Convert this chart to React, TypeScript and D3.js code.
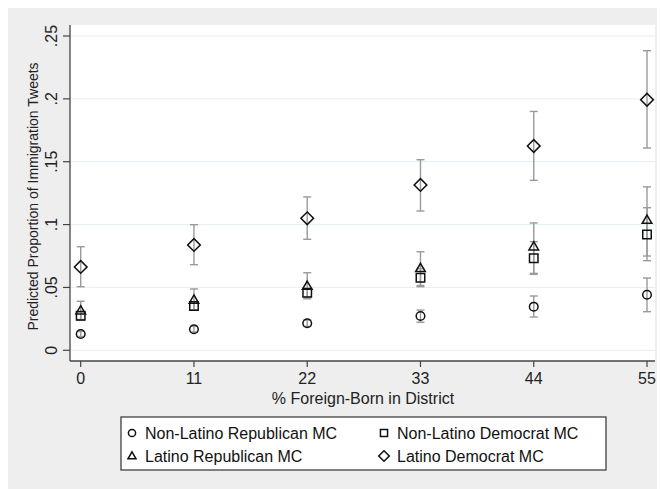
import React from "react";
import * as d3 from "d3";

// x positions (% foreign-born)
const foreignBorn = [0, 11, 22, 33, 44, 55];
const yTicks = [0, 0.05, 0.1, 0.15, 0.2, 0.25];
const yTickLabels = ["0", ".05", ".1", ".15", ".2", ".25"];

// predicted values with confidence interval bounds
const nonLatRep = [0.013, 0.0167, 0.0215, 0.0273, 0.0347, 0.0442];
const nonLatRepLo = [0.011, 0.0145, 0.019, 0.0223, 0.0265, 0.0307];
const nonLatRepHi = [0.015, 0.019, 0.024, 0.032, 0.0432, 0.0575];

const nonLatDem = [0.0275, 0.0352, 0.0458, 0.0578, 0.0732, 0.0922];
const nonLatDemLo = [0.0245, 0.032, 0.0425, 0.0506, 0.0612, 0.075];
const nonLatDemHi = [0.0305, 0.0385, 0.049, 0.065, 0.0864, 0.1134];

const latRep = [0.0315, 0.04, 0.0511, 0.0652, 0.0824, 0.1036];
const latRepLo = [0.024, 0.032, 0.041, 0.0515, 0.0604, 0.0713];
const latRepHi = [0.039, 0.0488, 0.0617, 0.0784, 0.1013, 0.13];

const latDem = [0.0663, 0.0838, 0.105, 0.1315, 0.1625, 0.1993];
const latDemLo = [0.0506, 0.0681, 0.0883, 0.1108, 0.1352, 0.1609];
const latDemHi = [0.0824, 0.0999, 0.122, 0.1516, 0.19, 0.2383];

const series = [
  { name: "Non-Latino Republican MC", shape: "circle", mid: nonLatRep, lo: nonLatRepLo, hi: nonLatRepHi },
  { name: "Non-Latino Democrat MC", shape: "square", mid: nonLatDem, lo: nonLatDemLo, hi: nonLatDemHi },
  { name: "Latino Republican MC", shape: "triangle", mid: latRep, lo: latRepLo, hi: latRepHi },
  { name: "Latino Democrat MC", shape: "diamond", mid: latDem, lo: latDemLo, hi: latDemHi },
];

const W = 649;
const H = 481;
const plot = { left: 62, right: 647, top: 17, bottom: 353 };
const font = "'Liberation Sans', Arial, Helvetica, sans-serif";

function markerPath(shape: string, scale: number) {
  if (shape === "circle") return d3.symbol(d3.symbolCircle, 58 * scale)()!;
  if (shape === "square") return d3.symbol(d3.symbolSquare, 72 * scale)()!;
  if (shape === "triangle") return d3.symbol(d3.symbolTriangle, 40 * scale)()!;
  return d3.symbol(d3.symbolSquare, 80 * scale)()!; // rotated below
}

function Marker({ shape, x, y, scale = 1 }: { shape: string; x: number; y: number; scale?: number }) {
  const rot = shape === "diamond" ? " rotate(45)" : "";
  const dy = shape === "triangle" ? 0.5 : 0;
  return (
    <path
      d={markerPath(shape, scale)}
      transform={`translate(${x},${y + dy})${rot}`}
      fill="none"
      stroke="#111"
      strokeWidth={1.5}
    />
  );
}

export default function App() {
  const x = d3.scaleLinear().domain([0, 55]).range([plot.left + 10.7, plot.right - 8]);
  const y = d3.scaleLinear().domain([0, 0.25]).range([plot.bottom - 10.7, plot.top + 11]);
  const cap = 4;

  const legendRows = [
    [series[0], series[1]],
    [series[2], series[3]],
  ];

  return (
    <svg width={W} height={H} style={{ display: "block", position: "absolute", left: 8, top: 8 }} fontFamily={font}>
      <rect x={0} y={0} width={W} height={H} fill="#eeeeee" />
      <rect x={plot.left} y={plot.top} width={plot.right - plot.left} height={plot.bottom - plot.top} fill="#ffffff" />

      {/* gridlines */}
      {yTicks.map((t) => (
        <line key={"g" + t} x1={plot.left} x2={plot.right} y1={y(t)} y2={y(t)} stroke="#e6eef1" strokeWidth={1} />
      ))}

      {/* error bars */}
      {series.map((s) =>
        foreignBorn.map((fb, i) => (
          <g key={s.name + "e" + fb} stroke="#9a9a9a" strokeWidth={1.4}>
            <line x1={x(fb)} x2={x(fb)} y1={y(s.lo[i])} y2={y(s.hi[i])} />
            <line x1={x(fb) - cap} x2={x(fb) + cap} y1={y(s.lo[i])} y2={y(s.lo[i])} />
            <line x1={x(fb) - cap} x2={x(fb) + cap} y1={y(s.hi[i])} y2={y(s.hi[i])} />
          </g>
        ))
      )}

      {/* markers */}
      {series.map((s) =>
        foreignBorn.map((fb, i) => <Marker key={s.name + "m" + fb} shape={s.shape} x={x(fb)} y={y(s.mid[i])} />)
      )}

      {/* axes */}
      <line x1={plot.left} x2={plot.left} y1={plot.top} y2={plot.bottom} stroke="#444" strokeWidth={1.3} />
      <line x1={plot.left} x2={plot.right} y1={plot.bottom} y2={plot.bottom} stroke="#444" strokeWidth={1.3} />
      {yTicks.map((t, i) => (
        <g key={"yt" + t}>
          <line x1={plot.left - 7} x2={plot.left} y1={y(t)} y2={y(t)} stroke="#444" strokeWidth={1.2} />
          <text
            transform={`translate(${plot.left - 19},${y(t)}) rotate(-90)`}
            textAnchor="middle"
            dominantBaseline="central"
            fontSize={16}
            fill="#222"
          >
            {yTickLabels[i]}
          </text>
        </g>
      ))}
      {foreignBorn.map((fb) => (
        <g key={"xt" + fb}>
          <line x1={x(fb)} x2={x(fb)} y1={plot.bottom} y2={plot.bottom + 6} stroke="#444" strokeWidth={1.2} />
          <text x={x(fb)} y={plot.bottom + 17} textAnchor="middle" dominantBaseline="central" fontSize={16} fill="#222">
            {fb}
          </text>
        </g>
      ))}

      <text x={355} y={390} textAnchor="middle" dominantBaseline="central" fontSize={16} fill="#222">
        % Foreign-Born in District
      </text>
      <text
        transform={`translate(25,188.5) rotate(-90)`}
        textAnchor="middle"
        dominantBaseline="central"
        fontSize={14}
        fill="#222"
      >
        Predicted Proportion of Immigration Tweets
      </text>

      {/* legend */}
      <rect x={113} y={409} width={485} height={53} fill="#ffffff" stroke="#333" strokeWidth={1.2} />
      {legendRows.map((row, r) =>
        row.map((s, c) => {
          const sx = c === 0 ? 124 : 376;
          const sy = 425 + r * 23;
          return (
            <g key={s.name}>
              <Marker shape={s.shape} x={sx} y={sy} scale={0.7} />
              <text x={sx + 13} y={sy} dominantBaseline="central" fontSize={16} fill="#111">
                {s.name}
              </text>
            </g>
          );
        })
      )}
    </svg>
  );
}
